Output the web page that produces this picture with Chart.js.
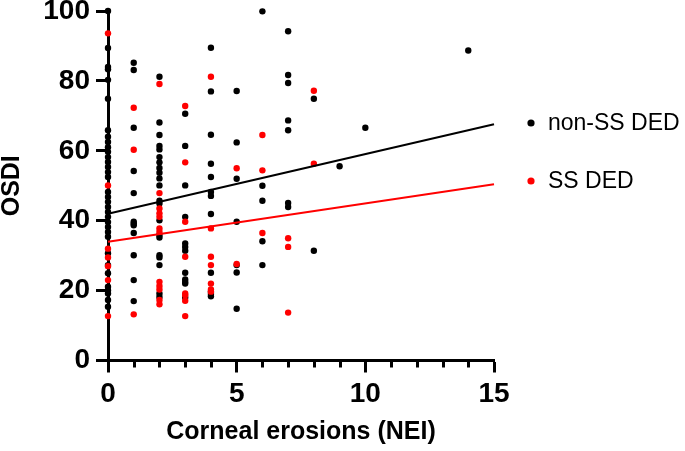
<!DOCTYPE html>
<html>
<head>
<meta charset="utf-8">
<script src="https://cdn.jsdelivr.net/npm/chart.js@4"></script>
<style>
  html, body { margin: 0; padding: 0; background: #fff; }
  #wrap { width: 685px; height: 451px; }
</style>
</head>
<body>
<div id="wrap"><canvas id="osdiChart"></canvas></div>
<script>
// non-SS DED (black)
var nonSsX = [
  0,0,0,0,0,0,0,0,0,0,0,0,0,0,0,0,0,0,0,0,0,0,0,0,0,0,0,0,0,0,0,0,0,0,
  1,1,1,1,1,1,1,1,1,1,1,1,
  2,2,2,2,2,2,2,2,2,2,2,2,2,2,2,2,2,2,2,2,2,
  3,3,3,3,3,3,3,3,3,3,3,3,
  4,4,4,4,4,4,4,4,4,4,4,4,
  5,5,5,5,5,5,5,
  6,6,6,6,6,
  7,7,7,7,7,7,7,
  8,8,
  9,10,14
];
var nonSsY = [
  100,89.4,84,83.3,80.3,74.9,65.9,64,62.5,61,59.7,58.2,56.8,55.4,53.9,52.5,48.2,46.8,45.4,43.9,42.5,41.1,39.6,38.2,36.8,35.4,30.7,27.3,25,21.1,20.1,19.2,17.3,15.4,
  85.2,83.1,66.6,54.2,47.9,39.7,39.2,38.7,36.5,30.1,23,17,
  81.2,68.1,64.5,61.4,60.4,58.2,56.7,55.1,53.7,52.1,50.1,45.7,44.9,40.1,35.9,35.2,30.1,29.5,27.3,19.2,18.2,
  70.6,61.4,50.1,41.1,33.5,32.5,31.4,25.1,23.2,22.5,22,18,
  89.5,77,64.6,56.3,52.5,48.2,47.1,41.9,25.1,19.7,19,18.4,
  77.1,62.4,52,39.7,27.3,25.2,14.8,
  99.9,50,45.7,34.1,27.3,
  94.2,81.7,79.4,68.7,65.9,45.1,43.9,
  74.9,31.4,
  55.6,66.6,88.7
];

// SS DED (red)
var ssX = [
  0,0,0,0,0,0,0,
  1,1,1,
  2,2,2,2,2,2,2,2,2,2,2,2,
  3,3,3,3,3,3,3,3,
  4,4,4,4,4,4,4,
  5,5,
  6,6,6,
  7,7,7,
  8,8
];
var ssY = [
  93.6,50.1,32,29.5,27,23,12.7,
  72.3,60.3,13.2,
  79.1,47.9,43.5,42.1,41.1,37.8,36.8,22.5,21.3,20.3,17.3,16.1,
  72.8,56.7,39.7,29.7,19.2,18.7,17.1,12.7,
  81.2,37.8,29.7,27.3,22,20.3,19.7,
  55,27.6,
  64.5,54.4,36.5,
  35,32.5,13.7,
  77.2,56.3
];

// regression lines (end points)
var fitX = [0, 15];
var nonSsFit = [42, 67.6];
var ssFit = [34, 50.4];

var xTicks = [0, 5, 10, 15];
var yTicks = [0, 20, 40, 60, 80, 100];
var legendNames = ["non-SS DED", "SS DED"];
var legendColors = ["#000000", "#ff0000"];

function zip(xs, ys) {
  return xs.map(function (v, i) { return { x: v, y: ys[i] }; });
}

var FONT = "'Liberation Sans', Arial, sans-serif";

var extras = {
  id: "extras",
  afterDraw: function (chart) {
    var ctx = chart.ctx;
    var x = chart.scales.x;
    var bottom = chart.chartArea.bottom;
    ctx.save();
    // minor ticks on the x axis
    ctx.strokeStyle = "#000";
    ctx.lineWidth = 3;
    for (var v = x.min; v <= x.max; v++) {
      if (xTicks.indexOf(v) !== -1) continue;
      var px = Math.round(x.getPixelForValue(v)) + 0.5;
      ctx.beginPath();
      ctx.moveTo(px, bottom);
      ctx.lineTo(px, bottom + 7);
      ctx.stroke();
    }
    // legend
    ctx.font = "23px " + FONT;
    ctx.textBaseline = "middle";
    legendNames.forEach(function (name, i) {
      var cy = 123 + i * 58;
      ctx.fillStyle = legendColors[i];
      ctx.beginPath();
      ctx.arc(531, cy, 3.6, 0, Math.PI * 2);
      ctx.fill();
      ctx.fillStyle = "#000";
      ctx.fillText(name, 548, cy + 1);
    });
    ctx.restore();
  }
};

var ctx = document.getElementById("osdiChart").getContext("2d");
new Chart(ctx, {
  type: "scatter",
  data: {
    datasets: [
      {
        label: "non-SS DED fit",
        type: "line",
        data: zip(fitX, nonSsFit),
        borderColor: "#000",
        borderWidth: 2,
        pointRadius: 0,
        order: 0,
      },
      {
        label: "SS DED fit",
        type: "line",
        data: zip(fitX, ssFit),
        borderColor: "#ff0000",
        borderWidth: 2,
        pointRadius: 0,
        order: 0,
      },
      {
        label: "SS DED",
        data: zip(ssX, ssY),
        backgroundColor: "#ff0000",
        borderWidth: 0,
        pointRadius: 3.2,
        order: 1,
      },
      {
        label: "non-SS DED",
        data: zip(nonSsX, nonSsY),
        backgroundColor: "#000",
        borderWidth: 0,
        pointRadius: 3.2,
        order: 2,
      },
    ],
  },
  options: {
    responsive: true,
    maintainAspectRatio: false,
    animation: false,
    datasets: { scatter: { clip: false }, line: { clip: false } },
    layout: { padding: { top: 11, right: 191, left: 0, bottom: 0 } },
    plugins: {
      legend: { display: false },
      tooltip: { enabled: false },
    },
    scales: {
      x: {
        type: "linear",
        min: 0,
        max: 15,
        afterFit: function (s) { s.height = 90.5; s.paddingLeft = 0; s.paddingRight = 0; },
        afterBuildTicks: function (s) {
          s.ticks = [];
          for (var v = 0; v <= 15; v++) s.ticks.push({ value: v });
        },
        ticks: {
          color: "#000",
          padding: 5,
          autoSkip: false,
          maxRotation: 0,
          minRotation: 0,
          font: { family: FONT, size: 28, weight: "bold" },
          callback: function (v) { return xTicks.indexOf(v) !== -1 ? String(v) : ""; },
        },
        grid: {
          drawOnChartArea: false,
          tickLength: 12,
          tickWidth: 3,
          tickColor: function (c) {
            return c.tick && xTicks.indexOf(c.tick.value) !== -1 ? "#000" : "rgba(0,0,0,0)";
          },
        },
        border: { color: "#000", width: 3 },
        title: {
          display: true,
          text: "Corneal erosions (NEI)",
          color: "#000",
          font: { family: FONT, size: 25, weight: "bold", lineHeight: 1 },
          padding: { top: 0, bottom: 6 },
        },
      },
      y: {
        min: 0,
        max: 100,
        afterFit: function (s) { s.width = 108; s.paddingTop = 0; s.paddingBottom = 0; },
        afterBuildTicks: function (s) {
          s.ticks = yTicks.map(function (v) { return { value: v }; });
        },
        ticks: {
          color: "#000",
          padding: 6,
          font: { family: FONT, size: 28, weight: "bold" },
        },
        grid: {
          drawOnChartArea: false,
          tickLength: 12,
          tickWidth: 3,
          tickColor: "#000",
        },
        border: { color: "#000", width: 3 },
        title: {
          display: true,
          text: "OSDI",
          color: "#000",
          font: { family: FONT, size: 25, weight: "bold", lineHeight: 1 },
          padding: { top: 0, bottom: 0 },
        },
      },
    },
  },
  plugins: [extras],
});
</script>
</body>
</html>
